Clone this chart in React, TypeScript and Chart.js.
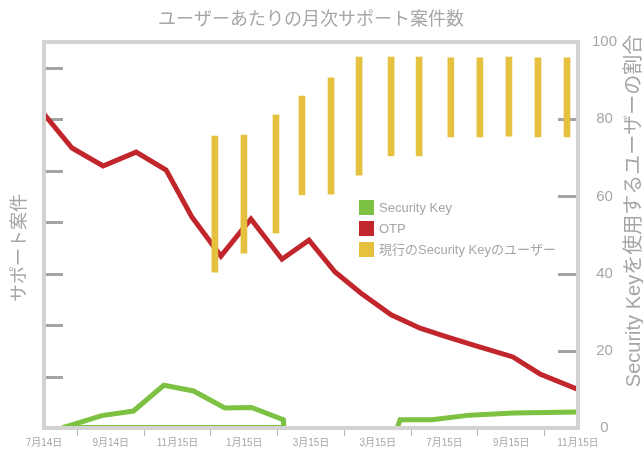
import { useEffect, useRef } from "react";
import { Chart, registerables } from "chart.js";

Chart.register(...registerables);

const FONT = "'Liberation Sans', 'Noto Sans CJK JP', sans-serif";
const TEXT = "#a6a6a6";

const TITLE = "ユーザーあたりの月次サポート案件数";
const LEFT_TITLE = "サポート案件";
const RIGHT_TITLE = "Security Keyを使用するユーザーの割合";
const X_LABELS = ["7月14日", "9月14日", "11月15日", "1月15日", "3月15日", "3月15日", "7月15日", "9月15日", "11月15日"];

const SERIES_NAMES = ["Security Key", "OTP", "現行のSecurity Keyのユーザー"];
const SERIES_COLORS = ["#7cc142", "#c1262d", "#e6c03f"];

// x in months from 7月14日
const OTP_X = [0, 0.84, 1.77, 2.76, 3.66, 4.43, 5.3, 6.2, 7.13, 7.94, 8.72, 9.5, 10.4, 11.27, 12.07, 12.97, 14.05, 14.86, 16];
const OTP_Y = [6.1, 5.44, 5.09, 5.36, 5.01, 4.1, 3.34, 4.06, 3.28, 3.65, 3.03, 2.62, 2.2, 1.94, 1.77, 1.59, 1.38, 1.05, 0.75];

const SK_X = [0.54, 1.73, 2.68, 3.59, 4.48, 5.42, 6.22, 7.17, 7.18, 0.54, 9, 10.58, 10.67, 11.62, 12.76, 14.06, 16];
const SK_Y = [0, 0.24, 0.33, 0.83, 0.72, 0.39, 0.4, 0.16, 0.01, 0.01, null, 0, 0.16, 0.16, 0.25, 0.29, 0.31];

const USERS_X = [5.12, 5.99, 6.95, 7.73, 8.6, 9.44, 10.4, 11.24, 12.19, 13.06, 13.93, 14.8, 15.67];
const USERS_LOW = [40.4, 45.3, 50.5, 60.4, 60.6, 65.5, 70.5, 70.5, 75.4, 75.4, 75.6, 75.4, 75.4];
const USERS_HIGH = [75.6, 75.9, 81.1, 86.0, 90.7, 96.1, 96.1, 96.1, 95.9, 95.9, 96.1, 95.9, 95.9];

const decor = {
  id: "decor",
  beforeDatasetsDraw(chart: any) {
    const { ctx, chartArea: a, scales } = chart;
    ctx.save();
    ctx.strokeStyle = "#a3a3a3";
    ctx.lineWidth = 3;
    const yl = scales.y;
    for (const t of yl.ticks) {
      if (t.value <= yl.min || t.value >= yl.max) continue;
      const y = Math.round(yl.getPixelForValue(t.value)) + 0.5;
      ctx.beginPath();
      ctx.moveTo(a.left, y);
      ctx.lineTo(a.left + 19, y);
      ctx.stroke();
    }
    const yr = scales.y1;
    for (const t of yr.ticks) {
      if (t.value <= yr.min || t.value >= yr.max) continue;
      const y = Math.round(yr.getPixelForValue(t.value)) + 0.5;
      ctx.beginPath();
      ctx.moveTo(a.right - 20, y);
      ctx.lineTo(a.right, y);
      ctx.stroke();
    }
    ctx.restore();
  },
  afterDatasetsDraw(chart: any) {
    const { ctx, chartArea: a } = chart;
    ctx.save();
    ctx.strokeStyle = "#d3d3d3";
    ctx.lineWidth = 4;
    ctx.strokeRect(a.left, a.top, a.right - a.left, a.bottom - a.top);
    ctx.restore();
  },
  afterDraw(chart: any) {
    const { ctx, chartArea: a } = chart;
    ctx.save();
    ctx.fillStyle = TEXT;
    ctx.textBaseline = "middle";
    ctx.textAlign = "center";
    ctx.font = `18px ${FONT}`;
    ctx.fillText(TITLE, (a.left + a.right) / 2, 20);

    ctx.save();
    ctx.translate(20, 248);
    ctx.rotate(-Math.PI / 2);
    ctx.font = `18px ${FONT}`;
    ctx.fillText(LEFT_TITLE, 0, 0);
    ctx.restore();

    ctx.save();
    ctx.translate(634, 211);
    ctx.rotate(-Math.PI / 2);
    ctx.font = `20px ${FONT}`;
    ctx.fillText(RIGHT_TITLE, 0, 0);
    ctx.restore();

    // legend
    ctx.textAlign = "left";
    ctx.font = `13px ${FONT}`;
    chart.data.datasets.forEach((ds: any, i: number) => {
      const top = 200 + i * 21;
      ctx.fillStyle = SERIES_COLORS[i];
      ctx.fillRect(359, top, 15, 15);
      ctx.fillStyle = TEXT;
      ctx.fillText(ds.label, 379, top + 8);
    });
    ctx.restore();
  },
};

export default function App() {
  const ref = useRef<HTMLCanvasElement>(null);
  useEffect(() => {
    if (!ref.current) return;
    const chart = new Chart(ref.current, {
      type: "bar",
      data: {
        datasets: [
          {
            type: "line",
            label: SERIES_NAMES[0],
            data: SK_X.map((x, i) => ({ x, y: SK_Y[i] })),
            borderColor: SERIES_COLORS[0],
            backgroundColor: SERIES_COLORS[0],
            borderWidth: 5,
            pointRadius: 0,
            tension: 0,
            spanGaps: false,
            borderJoinStyle: "miter",
            yAxisID: "y",
            order: 2,
          } as any,
          {
            type: "line",
            label: SERIES_NAMES[1],
            data: OTP_X.map((x, i) => ({ x, y: OTP_Y[i] })),
            borderColor: SERIES_COLORS[1],
            backgroundColor: SERIES_COLORS[1],
            borderWidth: 5,
            pointRadius: 0,
            tension: 0,
            borderJoinStyle: "miter",
            yAxisID: "y",
            order: 1,
          } as any,
          {
            type: "bar",
            label: SERIES_NAMES[2],
            data: USERS_X.map((x, i) => ({ x, y: [USERS_LOW[i], USERS_HIGH[i]] })),
            backgroundColor: SERIES_COLORS[2],
            borderWidth: 0,
            barThickness: 6,
            yAxisID: "y1",
            order: 0,
          } as any,
        ],
      },
      options: {
        animation: false,
        responsive: false,
        layout: { padding: { top: 42, left: 0, right: 0, bottom: 0 } },
        plugins: { legend: { display: false }, title: { display: false }, tooltip: { enabled: false } },
        scales: {
          x: {
            type: "linear",
            offset: false,
            min: 0,
            max: 16,
            afterFit: (s: any) => { s.height = 31; },
            border: { display: false },
            grid: { drawOnChartArea: false, drawTicks: true, tickLength: 8, color: "#b5b5b5", lineWidth: 1 },
            ticks: {
              stepSize: 2,
              autoSkip: false,
              maxRotation: 0,
              padding: 1,
              color: TEXT,
              font: { family: FONT, size: 10 },
              callback: (v: any) => X_LABELS[Math.round(Number(v) / 2)] ?? "",
            },
          },
          y: {
            position: "left",
            min: 0,
            max: 7.5,
            afterFit: (s: any) => { s.width = 44; },
            border: { display: false },
            grid: { display: false },
            ticks: { stepSize: 1, display: false },
          },
          y1: {
            position: "right",
            min: 0,
            max: 100,
            afterFit: (s: any) => { s.width = 65; },
            border: { display: false },
            grid: { display: false, drawTicks: false },
            ticks: {
              stepSize: 20,
              padding: 14,
              crossAlign: "center",
              color: TEXT,
              font: { family: FONT, size: 15 },
            },
          },
        },
      } as any,
      plugins: [decor],
    });
    return () => chart.destroy();
  }, []);
  return (
    <div style={{ position: "fixed", left: 0, top: 0, width: 643, height: 459, background: "#fff" }}>
      <canvas ref={ref} width={643} height={459} style={{ display: "block" }} />
    </div>
  );
}
